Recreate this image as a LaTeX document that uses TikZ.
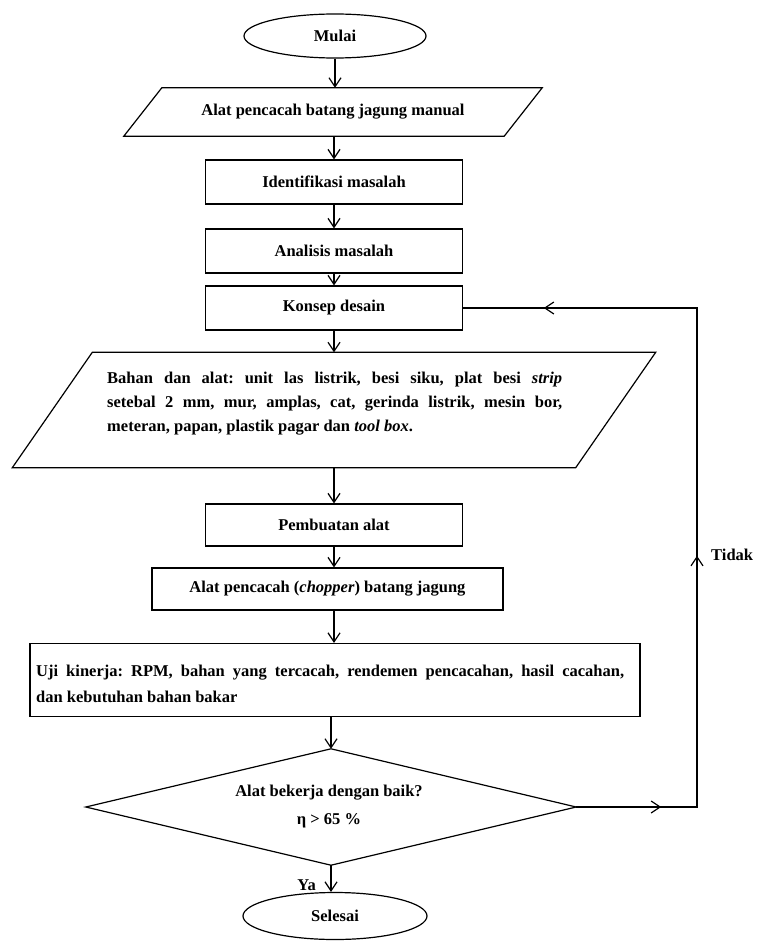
\documentclass[tikz,border=0pt]{standalone}
\usepackage{fontspec}
\setmainfont{Liberation Serif}
\usetikzlibrary{arrows.meta,shapes.geometric,decorations.markings,calc}
\frenchspacing
\begin{document}
\begin{tikzpicture}[x=1pt,y=-1pt,
  every node/.style={font=\fontsize{16.5}{22}\selectfont\bfseries, inner sep=0pt},
  line/.style={line width=1.2pt},
  arr/.style={line, -{Straight Barb[length=9pt,width=12pt,line width=1.2pt]}},
  box/.style={draw, line width=1.2pt, minimum height=44pt},
  term/.style={draw, ellipse, line width=1.2pt}
]
\useasboundingbox (0,0) rectangle (757,947);

% terminals
\node[term, minimum width=182pt, minimum height=44pt] (start) at (335,36) {Mulai};

% parallelogram 1
\node[minimum width=380pt, minimum height=48pt] (p1) at (333,112) {Alat pencacah batang jagung manual};
\draw[line] ($(p1.south west)+(-19,0)$) -- ($(p1.north west)+(19,0)$) -- ($(p1.north east)+(19,0)$) -- ($(p1.south east)+(-19,0)$) -- cycle;

\node[box, minimum width=257pt] (idf) at (334,182) {Identifikasi masalah};
\node[box, minimum width=257pt] (ana) at (334,251) {Analisis masalah};
\node[box, minimum width=257pt] (kon) at (334,308) {Konsep desain};

% parallelogram 2
\node[minimum width=563pt, minimum height=115pt] (p2) at (334,410) {};
\draw[line] ($(p2.south west)+(-40,0)$) -- ($(p2.north west)+(40,0)$) -- ($(p2.north east)+(40,0)$) -- ($(p2.south east)+(-40,0)$) -- cycle;
\node[anchor=west, align=left, font=\fontsize{16.5}{24}\selectfont\bfseries] (p2t) at (107,404)
 {\makebox[455pt][s]{Bahan dan alat: unit las listrik, besi siku, plat besi \textit{strip}}\\
  \makebox[455pt][s]{setebal 2 mm, mur, amplas, cat, gerinda listrik, mesin bor,}\\
  meteran, papan, plastik pagar dan \textit{tool box}.};

\node[box, minimum width=257pt, minimum height=42pt] (pem) at (334,525) {Pembuatan alat};
\node[box, minimum width=351pt, minimum height=42pt] (chp) at (327.5,589) {Alat pencacah (\textit{chopper}) batang jagung};
\node[box, minimum width=610pt, minimum height=73pt] (uji) at (335,680) {};
\node[anchor=west, align=left, font=\fontsize{16.5}{26}\selectfont\bfseries] (ujit) at (36,684)
 {\makebox[588pt][s]{Uji kinerja: RPM, bahan yang tercacah, rendemen pencacahan, hasil cacahan,}\\
  dan kebutuhan bahan bakar};

% decision
\node[minimum width=490pt, minimum height=116pt] (dec) at (331,807) {};
\draw[line] (dec.north) -- (dec.east) -- (dec.south) -- (dec.west) -- cycle;
\node[align=center, font=\fontsize{16.5}{28}\selectfont\bfseries] (dect) at (329,807) {Alat bekerja dengan baik?\\ η > 65 \%};

\node[term, minimum width=184pt, minimum height=47pt] (end) at (335,916) {Selesai};

% connectors
\draw[arr] (start.south) -- (start.south |- p1.north);
\draw[arr] (p1.south -| idf.north) -- (idf.north);
\draw[arr] (idf.south) -- (ana.north);
\draw[arr] (ana.south) -- (kon.north);
\draw[arr] (kon.south) -- (kon.south |- p2.north);
\draw[arr] (p2.south -| pem.north) -- (pem.north);
\draw[arr] (pem.south) -- (pem.south |- chp.north);
\draw[arr] (pem.south |- chp.south) -- (pem.south |- uji.north);
\draw[arr] (uji.south -| dec.north) -- (dec.north);
\draw[arr] (dec.south) -- (dec.south |- end.north);
\node[anchor=east] (ya) at (316,885) {Ya};

\coordinate (c1) at (697,807);
\coordinate (c2) at (697,308);
\draw[line, postaction={decorate}, decoration={markings,
   mark=at position 85pt with {\arrow{Straight Barb[length=9pt,width=12pt,line width=1.2pt]}},
   mark=at position 372pt with {\arrow{Straight Barb[length=9pt,width=12pt,line width=1.2pt]}},
   mark=at position 773pt with {\arrow{Straight Barb[length=9pt,width=12pt,line width=1.2pt]}}}]
   (dec.east) -- (c1) -- (c2) -- (kon.east);
\node[anchor=west] (tidak) at (711,555) {Tidak};
\end{tikzpicture}
\end{document}
